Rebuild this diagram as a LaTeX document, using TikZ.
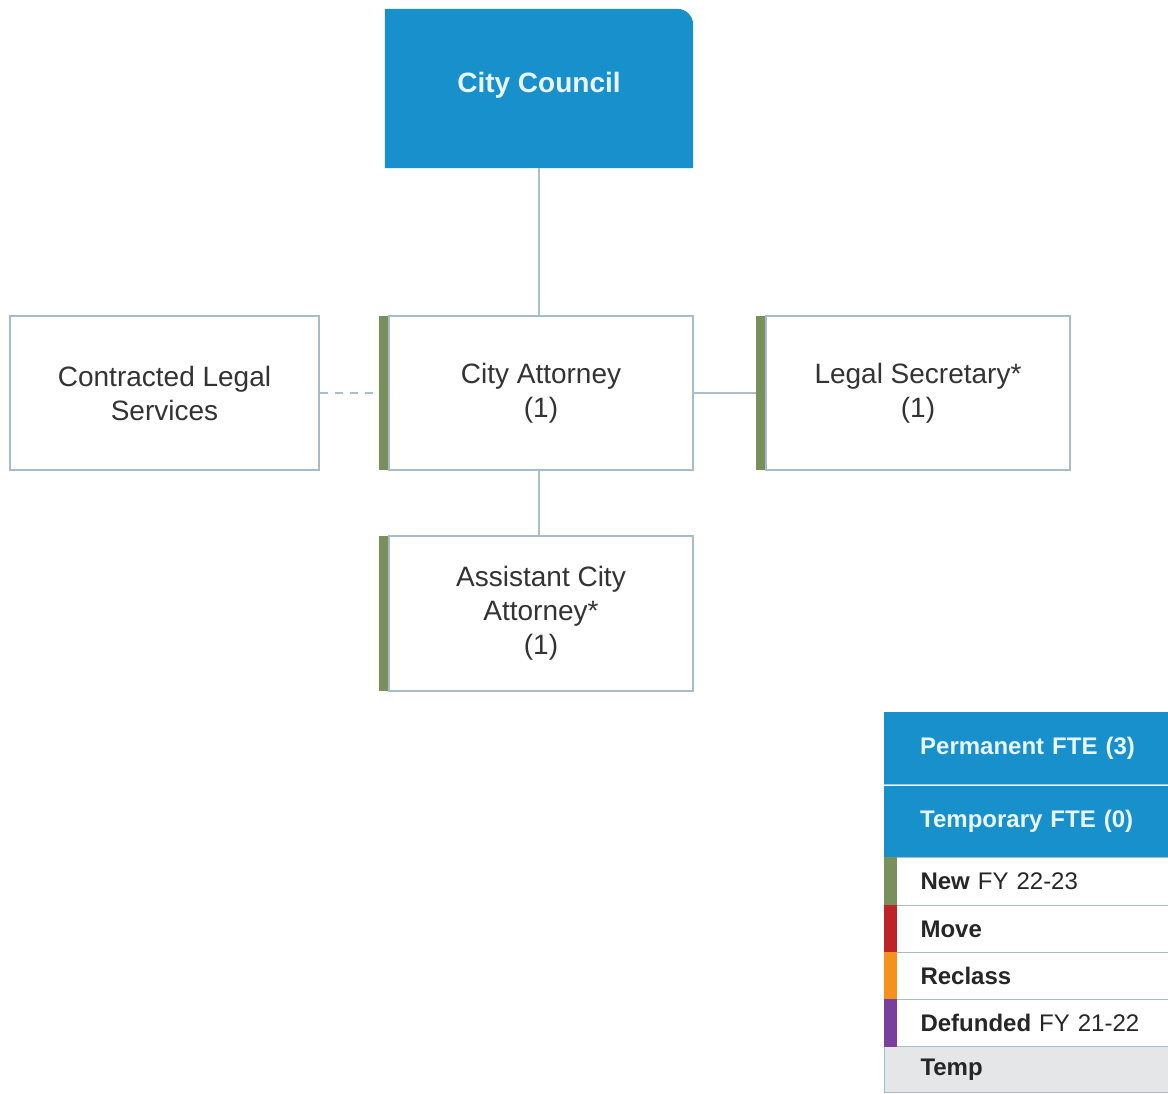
\documentclass[tikz,border=0pt]{standalone}
\usepackage{fontspec}
\setmainfont{Liberation Sans}
\definecolor{cblue}{HTML}{1790CC}
\definecolor{cgreen}{HTML}{78915C}
\definecolor{cborder}{HTML}{A9BBC6}
\definecolor{cline}{HTML}{A9BFCB}
\definecolor{ctext}{HTML}{333333}
\definecolor{cred}{HTML}{BE2327}
\definecolor{corange}{HTML}{F5921E}
\definecolor{cpurple}{HTML}{7A3E9C}
\definecolor{cgrey}{HTML}{E5E6E8}
\definecolor{chead}{HTML}{E8F6FB}
\newcommand\lgap{\hspace*{18pt}}
\begin{document}
\begin{tikzpicture}[x=1pt,y=-1pt,
  box/.style={draw=cborder, line width=1.5pt, fill=white, rectangle, minimum width=304pt, minimum height=154pt, align=center, text=ctext, font=\fontsize{28}{34}\selectfont, inner sep=0pt},
  conn/.style={draw=cline, line width=2pt},
  lhead/.style={rectangle, fill=cblue, minimum width=284pt, anchor=north west, inner sep=0pt, text width=248pt, align=left, text=chead, font=\fontsize{24}{28}\selectfont\bfseries},
  lrow/.style={rectangle, draw=cborder, line width=1pt, fill=white, minimum width=284pt, minimum height=47pt, anchor=north west, inner sep=0pt, text width=248pt, align=left, text=black!85, font=\fontsize{24}{28}\selectfont},
  gbar/.style={fill=cgreen, draw=none}
]
\useasboundingbox (0,0) rectangle (1168,1093);
\fill[white] (0,0) rectangle (1168,1093);

% City Council
\node[rectangle, minimum width=308pt, minimum height=159pt, inner sep=0pt] (cc) at (539,88.5) {};
\fill[cblue] (cc.south west) -- (cc.north west) -- ([xshift=-16pt]cc.north east) arc[start angle=90, end angle=0, radius=16pt] -- (cc.south east) -- cycle;
\node[text=chead, font=\fontsize{28}{34}\selectfont\bfseries] (cct) at ([yshift=3pt]cc.center) {City Council};

% boxes
\node[box, minimum width=309pt] (cls) at (164.5,393) {Contracted Legal\\Services};
\node[box] (ca) at (541,393) {City Attorney\\(1)};
\node[box] (ls) at (918,393) {Legal Secretary*\\(1)};
\node[box, minimum height=155pt] (aca) at (541,613.5) {Assistant City\\Attorney*\\(1)};

% connectors
\draw[conn] (cc.south) -- (cc.south |- ca.north);
\draw[conn] (cc.south |- ca.south) -- (cc.south |- aca.north);
\draw[conn] (ca.east) -- (ls.west);
\draw[conn, dashed, dash pattern=on 8pt off 7pt] (cls.east) -- (ca.west);

% green bars
\fill[gbar] ([yshift=0.75pt]ca.south west) rectangle ([xshift=-9pt,yshift=-0.75pt]ca.north west);
\fill[gbar] ([yshift=0.75pt]ls.south west) rectangle ([xshift=-9pt,yshift=-0.75pt]ls.north west);
\fill[gbar] ([yshift=0.75pt]aca.south west) rectangle ([xshift=-9pt,yshift=-0.75pt]aca.north west);

% legend
\node[lhead, minimum height=72pt] (perm) at (884,712) {\lgap Permanent FTE (3)};
\node[lhead, minimum height=71pt] (temp) at (884,786) {\lgap Temporary FTE (0)};
\draw[chead!60!cblue, line width=1.5pt] (perm.south west) -- (perm.south east);
\node[lrow, minimum height=48pt] (new) at (884,857) {\lgap\textbf{New} FY 22-23};
\node[lrow] (move) at (884,905) {\lgap\textbf{Move}};
\node[lrow] (recl) at (884,952) {\lgap\textbf{Reclass}};
\node[lrow] (def) at (884,999) {\lgap\textbf{Defunded} FY 21-22};
\node[lrow, fill=cgrey, minimum height=46pt] (tmp) at (884,1046) {\lgap\textbf{Temp}};
\fill[cgreen] (new.north west) rectangle ([xshift=13pt]new.south west);
\fill[cred] (move.north west) rectangle ([xshift=13pt]move.south west);
\fill[corange] (recl.north west) rectangle ([xshift=13pt]recl.south west);
\fill[cpurple] (def.north west) rectangle ([xshift=13pt]def.south west);
\end{tikzpicture}
\end{document}
